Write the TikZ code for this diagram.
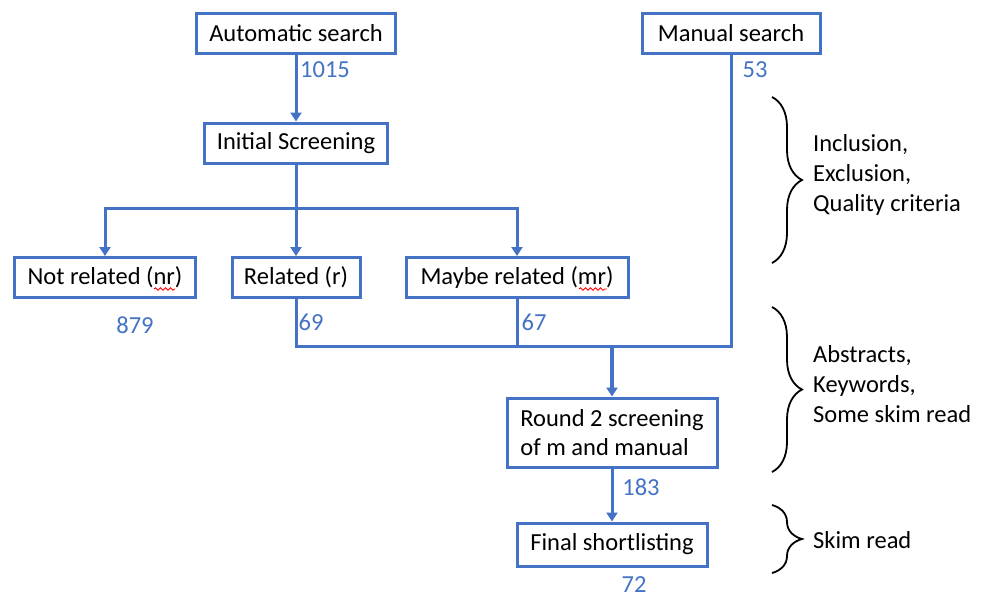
\documentclass[tikz,border=0pt]{standalone}
\usepackage{fontspec}
\setmainfont{Carlito}
\usetikzlibrary{arrows.meta,positioning,decorations.pathreplacing,decorations.pathmorphing}
\definecolor{msblue}{RGB}{68,114,196}
\tikzset{
  box/.style={draw=msblue,line width=3pt,fill=white,minimum height=40pt,inner sep=4pt,font=\fontsize{24.5}{29}\selectfont},
  num/.style={text=msblue,inner sep=0pt,font=\fontsize{24.5}{29}\selectfont},
  link/.style={draw=msblue,line width=3pt},
  conn/.style={link,-{Triangle[length=9pt,width=11pt]}},
  brc/.style={draw=black,line width=1.8pt,decorate,decoration={brace,amplitude=30pt}},
  note/.style={inner sep=0pt,anchor=west,align=left,font=\fontsize{24.5}{30}\selectfont},
  squig/.style={draw=red,line width=0.9pt,decorate,decoration={snake,amplitude=1.2pt,segment length=5pt}}
}
\begin{document}
\begin{tikzpicture}[x=1pt,y=-1pt]
  \useasboundingbox (0,0) rectangle (988,598);
  \node[box,minimum width=199pt] (auto) at (296,33) {Automatic search};
  \node[box,minimum width=178pt] (man) at (731,33) {Manual search};
  \node[box,minimum width=183pt] (init) at (296,143) {Initial Screening};
  \node[box,minimum width=181pt] (nrel) at (105,277.5) {Not related (nr)};
  \node[box,minimum width=128pt] (rel) at (296,277.5) {Related (r)};
  \node[box,minimum width=222pt] (mrel) at (517,277.5) {Maybe related (mr)};
  \node[box,minimum width=210pt,minimum height=69pt,align=left] (round) at (612,432.5) {Round 2 screening\\of m and manual};
  \node[box,minimum width=190pt,minimum height=43pt] (final) at (612,544.5) {Final shortlisting};
  \coordinate (split) at (296,208);
  \coordinate (merge) at (612,346);
  \draw[conn] (auto) -- (init);
  \draw[link] (init) -- (split);
  \draw[conn] (split) -| (nrel);
  \draw[conn] (split) -- (rel);
  \draw[conn] (split) -| (mrel);
  \draw[link] (rel) |- (merge);
  \draw[link] (mrel) -- (mrel |- merge);
  \draw[link] (man) |- (merge);
  \draw[conn,line width=4pt] (merge) -- (round);
  \draw[conn] (round) -- (final);
  \node[num] (n1015) at (325,70) {1015};
  \node[num] (n53) at (755,70) {53};
  \node[num] (n879) at (135,325) {879};
  \node[num] (n69) at (311,322) {69};
  \node[num] (n67) at (534,322) {67};
  \node[num] (n183) at (641,487) {183};
  \node[num] (n72) at (634,585) {72};
  \draw[squig] (154,289) -- (175,289);
  \draw[squig] (579,289) -- (607,289);
  \draw[brc] (772,97) -- (772,263);
  \draw[brc] (772,307) -- (772,472);
  \draw[brc] (772,505) -- (772,573);
  \node[note] (crit) at (813,175) {Inclusion,\\Exclusion,\\Quality criteria};
  \node[note] (abs) at (813,384) {Abstracts,\\Keywords,\\Some skim read};
  \node[note] (skim) at (813,540) {Skim read};
\end{tikzpicture}
\end{document}
